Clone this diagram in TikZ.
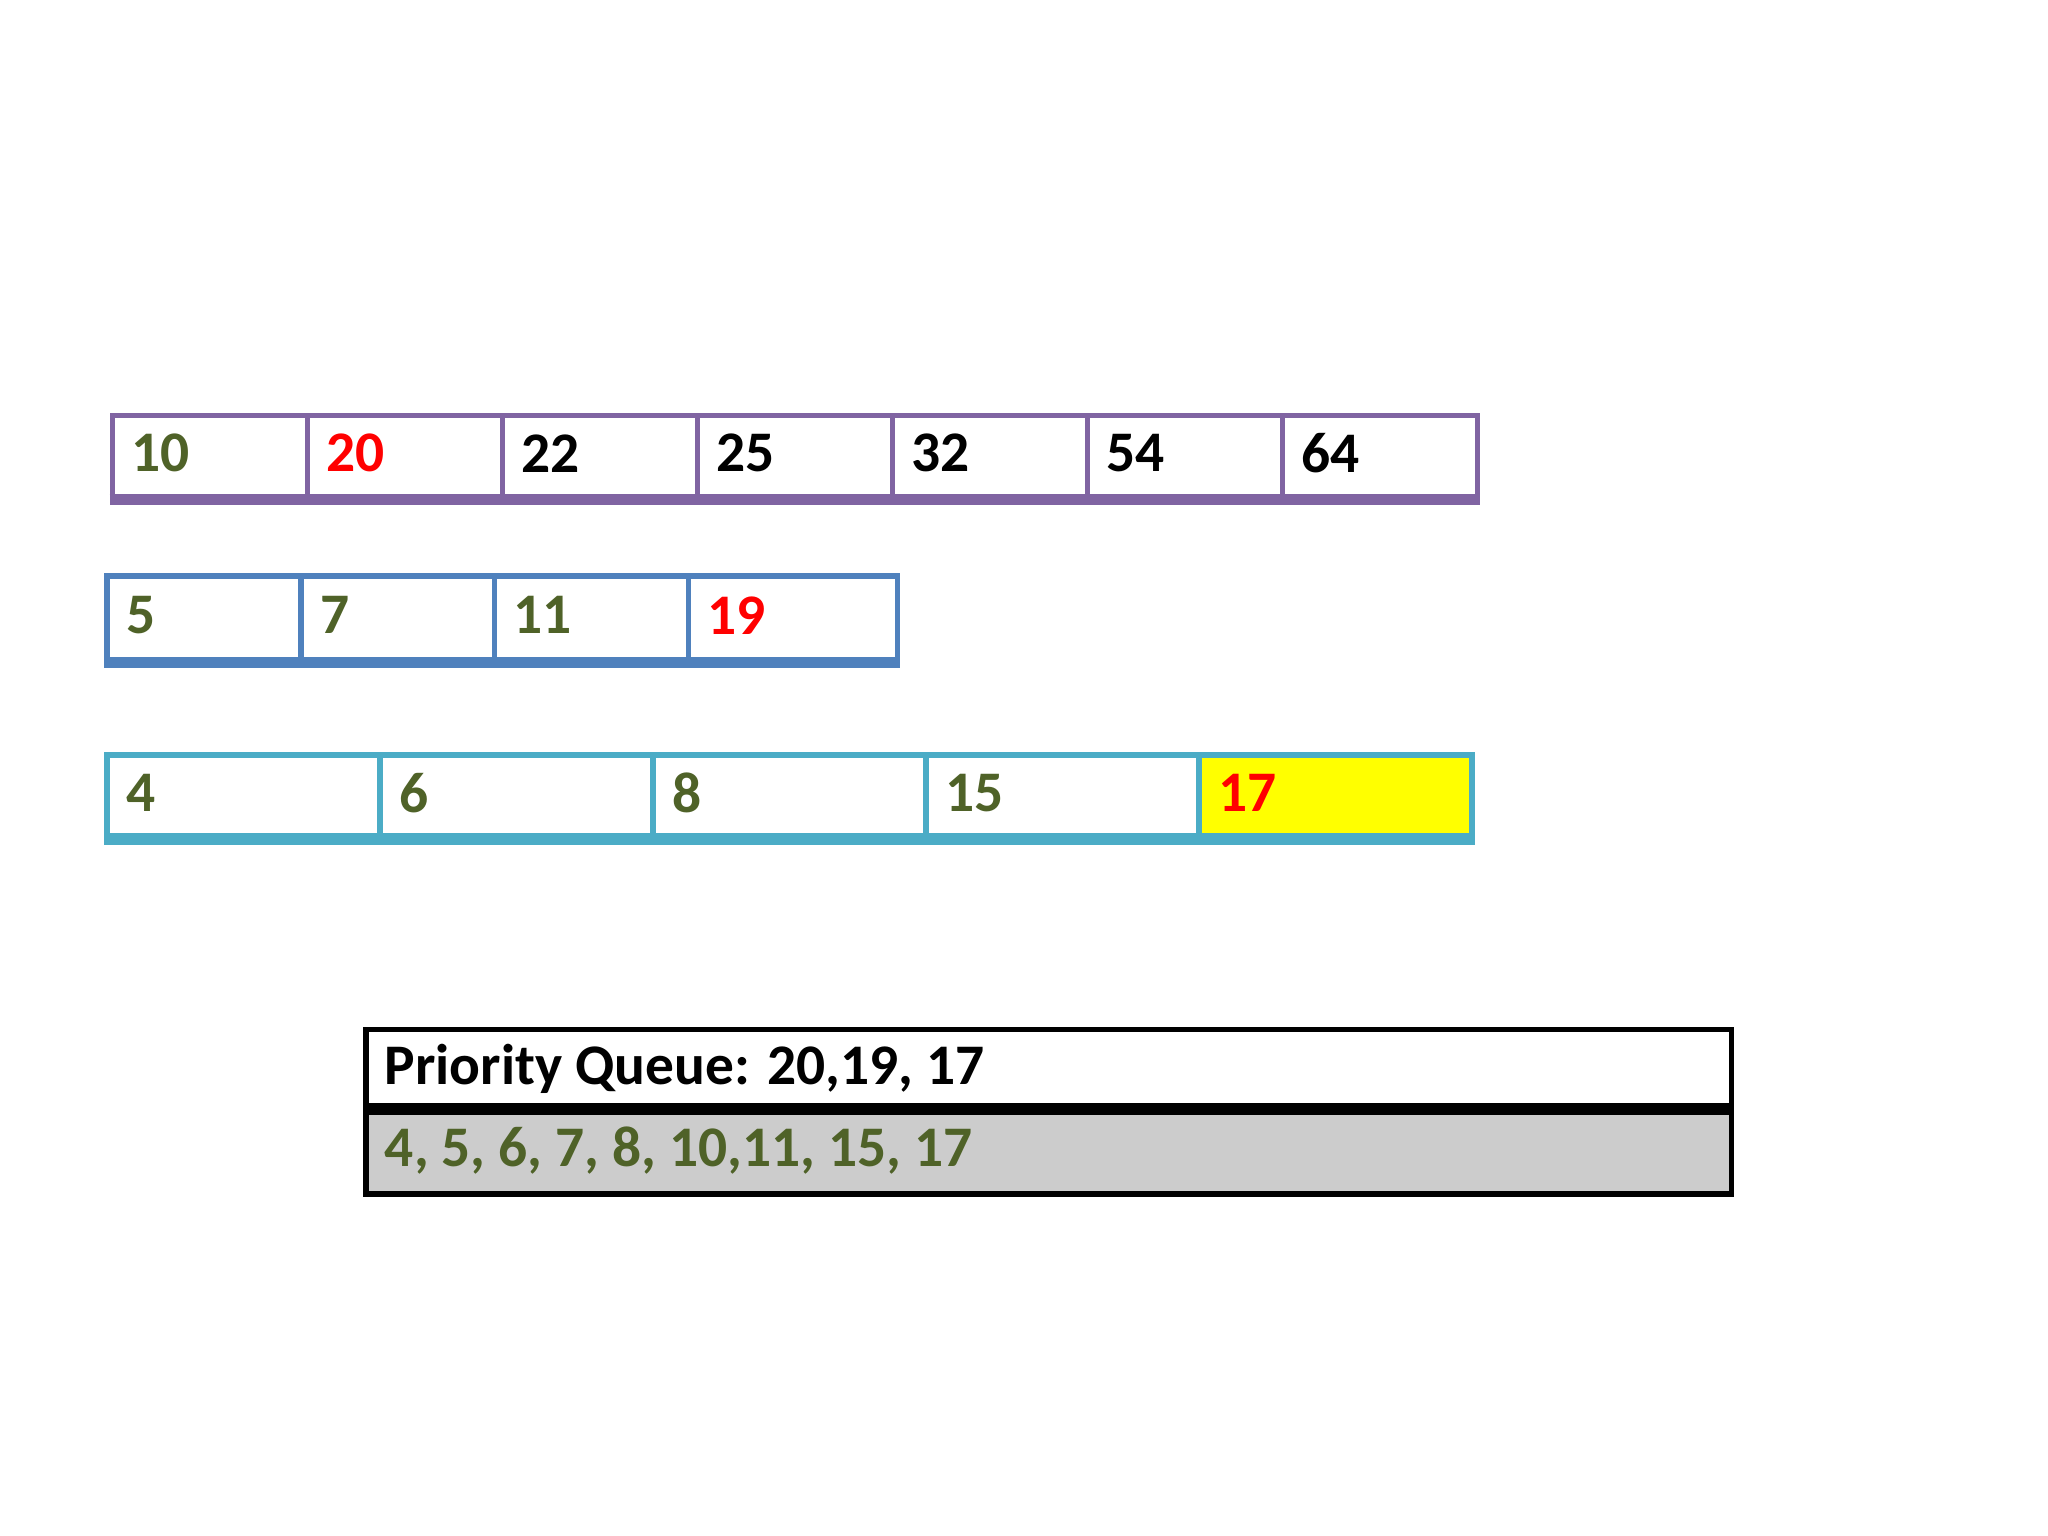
\documentclass[tikz,border=0pt]{standalone}
\usepackage{fontspec}
\setmainfont{Carlito}
\definecolor{olive}{RGB}{79,98,40}
\definecolor{purp}{RGB}{128,100,162}
\definecolor{blu}{RGB}{79,129,189}
\definecolor{cya}{RGB}{75,172,198}
\definecolor{gry}{RGB}{204,204,204}
\definecolor{yel}{RGB}{255,255,0}
\begin{document}
\begin{tikzpicture}[x=0.01cm,y=-0.01cm,
 cell/.style={draw=#1,line width=1.2pt,anchor=north west,inner sep=0pt,
   font=\fontsize{12.5pt}{14pt}\selectfont\bfseries,text=olive,align=left,text depth=0pt},
 lbl/.style={anchor=west,font=\fontsize{12.5pt}{14pt}\selectfont\bfseries,inner sep=0pt}]
\useasboundingbox (0,0) rectangle (1568,1176);
% row 1
\foreach \v/\c [count=\i from 0] in {10/olive,20/red,22/black,25/black,32/black,54/black,64/black}{
  \node[draw=purp,line width=1.2pt,minimum width=149.3*0.01cm,minimum height=0.62cm,anchor=north west,inner sep=0pt] (r1c\i) at (84+149.3*\i,316) {};
  \node[lbl,text=\c] (r1t\i) at (100+149.3*\i,347) {\v};
}
\draw[purp,line width=2.5pt] (r1c0.south west) -- (r1c6.south east);
% row 2
\foreach \v/\c [count=\i from 0] in {5/olive,7/olive,11/olive,19/red}{
  \node[draw=blu,line width=1.2pt,minimum width={(\i==3?160:148.3)*0.01cm},minimum height=0.64cm,anchor=north west,inner sep=0pt] (r2c\i) at (80+148.3*\i,439) {};
  \node[lbl,text=\c] (r2t\i) at (96+148.3*\i,471) {\v};
}
\draw[blu,line width=2.5pt] (r2c0.south west) -- (r2c3.south east);
% row 3
\foreach \v/\c/\f [count=\i from 0] in {4/olive/white,6/olive/white,8/olive/white,15/olive/white,17/red/yel}{
  \node[draw=cya,fill=\f,line width=1.2pt,minimum width=209*0.01cm,minimum height=0.62cm,anchor=north west,inner sep=0pt] (r3c\i) at (80+209*\i,576) {};
  \node[lbl,text=\c] (r3t\i) at (96+209*\i,607) {\v};
}
\draw[cya,line width=2.5pt] (r3c0.south west) -- (r3c4.south east);
% table
\node[draw=black,line width=1.2pt,minimum width=10.45cm,minimum height=0.63cm,anchor=north west,inner sep=0pt] (pq) at (278,786) {};
\node[draw=black,fill=gry,line width=1.2pt,minimum width=10.45cm,minimum height=0.63cm,anchor=north west,inner sep=0pt] (lst) at (278,849) {};
\draw[line width=2.5pt] (lst.north west) -- (lst.north east);
\node[lbl,text=black] (pqt) at (294,818) {Priority Queue: 20,19, 17};
\node[lbl,text=olive] (lstt) at (294,881) {4, 5, 6, 7, 8, 10,11, 15, 17};
\end{tikzpicture}
\end{document}
